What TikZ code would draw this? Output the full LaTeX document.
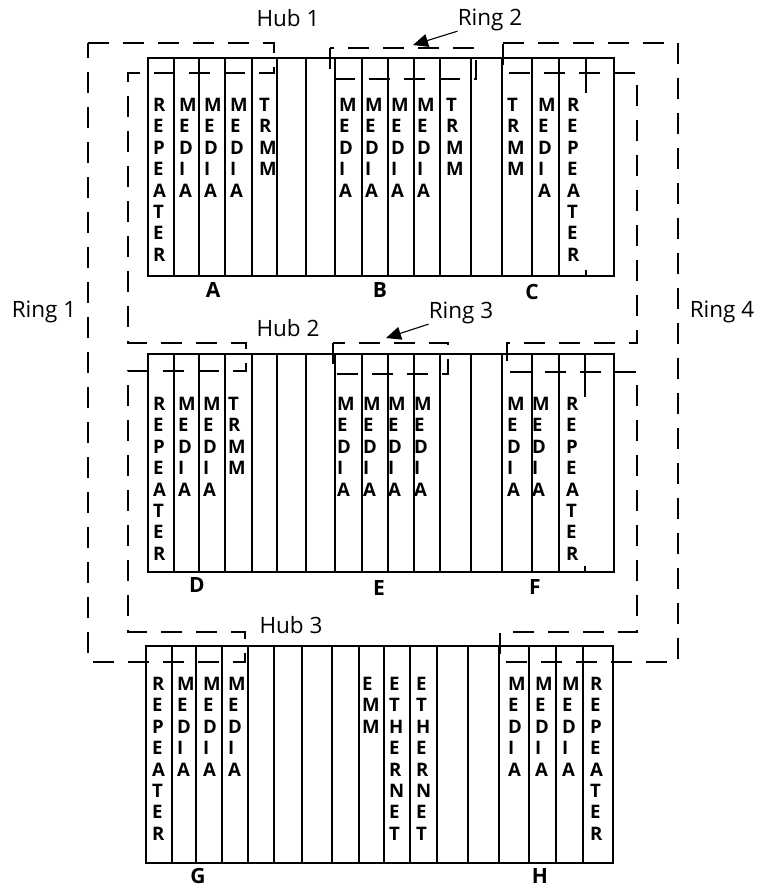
\documentclass[tikz,border=0pt]{standalone}
\usepackage{fontspec}
\setmainfont{Open Sans}
\usepackage{tikz}
\usetikzlibrary{arrows.meta, positioning}
% vertical slot captions
\newcommand{\wRep}{R\\E\\P\\E\\A\\T\\E\\R}
\newcommand{\wMedia}{M\\E\\D\\I\\A}
\newcommand{\wTrmm}{T\\R\\M\\M}
\newcommand{\wEmm}{E\\M\\M}
\newcommand{\wEth}{E\\T\\H\\E\\R\\N\\E\\T}
\tikzset{
  frame/.style={line width=1.7pt},
  ringline/.style={line width=1.6pt, dash pattern=on 21pt off 14pt},
  slot/.style={anchor=north west, inner sep=0pt, align=left,
    font=\fontsize{18.6}{21.4}\selectfont\bfseries},
  tag/.style={inner sep=0pt, font=\fontsize{22.5}{26}\selectfont},
  letter/.style={inner sep=0pt, font=\fontsize{21}{24}\selectfont\bfseries},
  pointer/.style={line width=1.1pt, -{Triangle[length=15pt, width=13pt]}}
}

\begin{document}
\begin{tikzpicture}[x=1pt, y=-1pt]
  \useasboundingbox (0,0) rectangle (760,888);
  % Chassis frames
  \foreach \t/\b/\l/\r in {58/276/148/614, 354/572/148/614, 646/863/146/613} {
    \draw[frame] (\l,\t) rectangle (\r,\b);
  }
  % Slot dividers, upper two chassis
  \foreach \t/\b in {58/276, 354/572} {
    \foreach \x in {174,199,225,252,277,306,335,362,388,414,440,471,502,532,559} {
      \draw[frame] (\x,\t) -- (\x,\b);
    }
  }
  \draw[frame] (586,58) -- (586,93) (586,270) -- (586,276);
  \draw[frame] (585,354) -- (585,397) (585,566) -- (585,572);
  % Slot dividers, lower chassis
  \foreach \x in {172,196,222,248,274,302,332,359,384,410,437,468,499,529,556,583} {
    \draw[frame] (\x,646) -- (\x,863);
  }

  % Cards
  \foreach \x/\w [count=\i] in {153/\wRep, 179/\wMedia, 204/\wMedia, 230/\wMedia,
      259/\wTrmm, 339/\wMedia, 365/\wMedia, 391/\wMedia, 417/\wMedia, 446/\wTrmm,
      507/\wTrmm, 538/\wMedia, 567/\wRep} {
    \node[slot] (up-\i) at (\x,98) {\w};
  }
  \foreach \x/\w [count=\i] in {153/\wRep, 178/\wMedia, 203/\wMedia, 228/\wTrmm,
      337/\wMedia, 363/\wMedia, 388/\wMedia, 414/\wMedia, 507/\wMedia, 532/\wMedia,
      566/\wRep} {
    \node[slot] (mid-\i) at (\x,397) {\w};
  }
  \foreach \x/\w [count=\i] in {152/\wRep, 177/\wMedia, 203/\wMedia, 228/\wMedia,
      362/\wEmm, 389/\wEth, 416/\wEth, 508/\wMedia, 535/\wMedia, 562/\wMedia,
      590/\wRep} {
    \node[slot] (low-\i) at (\x,677) {\w};
  }

  % Hub letters
  \foreach \n/\x/\y in {A/213/290, B/380/290, C/532/292, D/197/585,
      E/379/588, F/535/587, G/198/876, H/540/876} {
    \node[letter] (hub\n) at (\x,\y) {\n};
  }

  % Rings 1 and 4
  \draw[ringline] (88,43) -- (274,43) -- (274,73) -- (128,73) -- (128,343)
    -- (246,343) -- (246,371) -- (128,371) -- (128,632) -- (245,632)
    -- (245,662) -- (88,662) -- cycle;
  \draw[ringline] (503,43) -- (678,43) -- (678,662) -- (500,662) -- (500,632)
    -- (637,632) -- (637,372) -- (507,372) -- (507,343) -- (637,343)
    -- (637,73) -- (503,73) -- cycle;
  % Rings 2 and 3
  \draw[ringline] (330,48) rectangle (476,79);
  \draw[ringline] (333,343) rectangle (448,374);

  % Labels
  \node[tag] (hub1) at (288,18) {Hub 1};
  \node[tag] (hub2) at (288,328) {Hub 2};
  \node[tag] (hub3) at (291,625) {Hub 3};
  \node[tag] (ring1) at (44,312) {Ring 1};
  \node[tag] (ring4) at (722,312) {Ring 4};
  \node[tag] (ring2) at (490,20) {Ring 2};
  \node[tag] (ring3) at (461,313) {Ring 3};
  \coordinate (ring2tip) at (413,45);
  \coordinate (ring3tip) at (386,338);
  \draw[pointer] (ring2.south west) -- (ring2tip);
  \draw[pointer] (ring3.south west) -- (ring3tip);
\end{tikzpicture}
\end{document}
